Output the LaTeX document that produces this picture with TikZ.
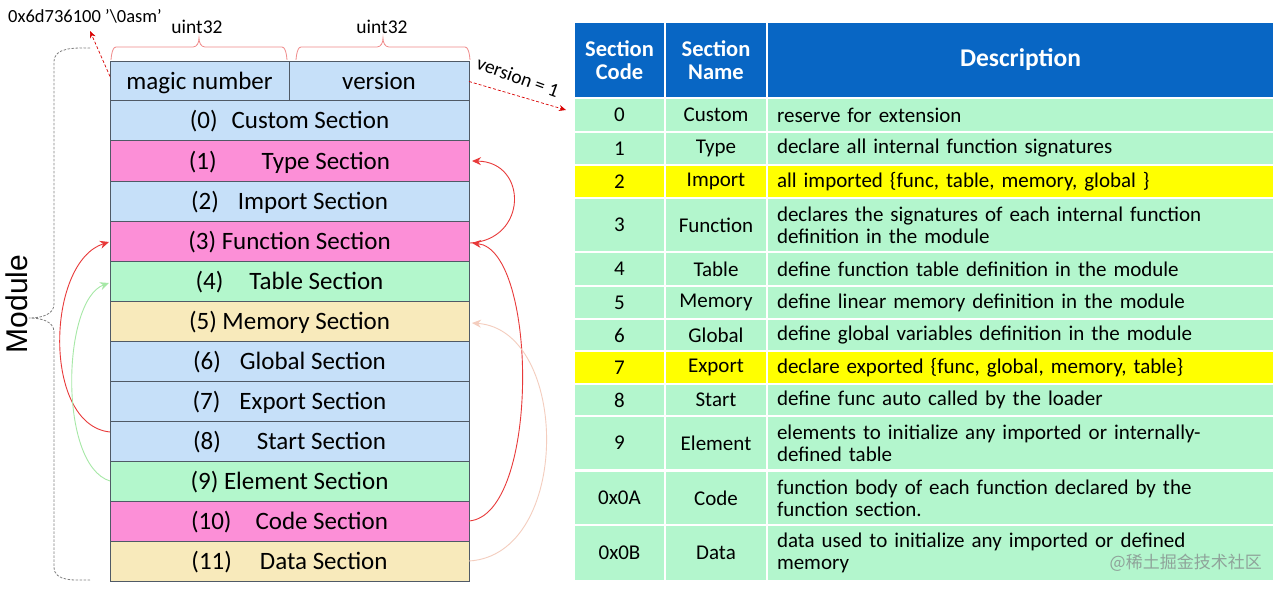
\documentclass[tikz,border=0pt]{standalone}
\usepackage{fontspec}
\setmainfont{Carlito}
\newfontfamily\modfont{Liberation Sans}
\newfontfamily\cjk{Noto Sans CJK SC}
\usetikzlibrary{arrows.meta,calc}
\definecolor{blueL}{HTML}{C6E0F9}
\definecolor{pinkL}{HTML}{FC8FD7}
\definecolor{greenL}{HTML}{B3F7CC}
\definecolor{tanL}{HTML}{F8EABB}
\definecolor{bordc}{HTML}{505A66}
\definecolor{hdrblue}{HTML}{0866C4}
\definecolor{cellgreen}{HTML}{B3F6CD}
\definecolor{cellyellow}{HTML}{FFFF00}
\definecolor{arrred}{HTML}{E83A3A}
\definecolor{arrgreen}{HTML}{A6E8A6}
\definecolor{arrpeach}{HTML}{F4CDBE}
\definecolor{bracered}{HTML}{F08A8A}
\definecolor{wmgray}{HTML}{8FA39A}
\tikzset{
  secbox/.style={draw=bordc, line width=1pt, minimum width=359pt, minimum height=40pt,
    inner sep=0pt, outer sep=0pt, font=\fontsize{25}{27}\selectfont, text height=18pt, text depth=2pt},
  cell/.style={inner sep=0pt, outer sep=0pt, font=\fontsize{21}{22}\selectfont},
  desccell/.style={cell, text width=487pt, inner xsep=9pt, align=left, minimum width=505pt},
  hdr/.style={inner sep=0pt, outer sep=0pt, fill=hdrblue, text=white, font=\bfseries\fontsize{22.5}{23}\selectfont, align=center},
  redarr/.style={draw=arrred, line width=0.9pt, -{Stealth[length=9pt,width=8pt]}},
  greenarr/.style={draw=arrgreen, line width=0.9pt, -{Stealth[length=9pt,width=8pt]}},
  peacharr/.style={draw=arrpeach, line width=0.9pt, -{Stealth[length=9pt,width=8pt]}},
  reddash/.style={draw=red!85!black, line width=0.7pt, dash pattern=on 3pt off 2pt, -{Stealth[length=7pt,width=6pt]}},
  bracepath/.style={draw=bracered, line width=0.8pt},
  modbrace/.style={draw=gray, line width=0.8pt, dash pattern=on 2.5pt off 1.5pt},
}
\newcommand\tabrow[7]{%
  \node[cell, fill=#4, minimum width=89pt, minimum height={(#3-#2)*1pt}] (c#1) at (619.5,{(#2+#3)/2}) {#5};
  \node[cell, fill=#4, minimum width=100pt, minimum height={(#3-#2)*1pt}] (n#1) at (716,{(#2+#3)/2}) {#6};
  \node[desccell, fill=#4, minimum height={(#3-#2)*1pt}] (d#1) at (1020.5,{(#2+#3)/2}) {#7};
}
\begin{document}
\begin{tikzpicture}[x=1pt,y=-1pt]
\useasboundingbox (0,0) rectangle (1280,591);
\fill[white] (0,0) rectangle (1280,591);

% ---- left column ----
\node[secbox, fill=blueL, minimum width=179pt, minimum height=39pt] (magic) at (199.5,81.5) {magic number};
\node[secbox, fill=blueL, minimum width=180pt, minimum height=39pt] (version) at (379,81.5) {version};
\node[secbox, fill=blueL]  (r0)  at (289.5,121) {(0)\hspace{14pt}Custom Section};
\node[secbox, fill=pinkL]  (r1)  at (289.5,161) {(1)\hspace{45pt}Type Section};
\node[secbox, fill=blueL]  (r2)  at (289.5,201) {(2)\hspace{19pt}Import Section};
\node[secbox, fill=pinkL]  (r3)  at (289.5,241) {(3) Function Section};
\node[secbox, fill=greenL] (r4)  at (289.5,281) {(4)\hspace{26pt}Table Section};
\node[secbox, fill=tanL]   (r5)  at (289.5,321) {(5) Memory Section};
\node[secbox, fill=blueL]  (r6)  at (289.5,361) {(6)\hspace{19pt}Global Section};
\node[secbox, fill=blueL]  (r7)  at (289.5,401) {(7)\hspace{19pt}Export Section};
\node[secbox, fill=blueL]  (r8)  at (289.5,441) {(8)\hspace{36pt}Start Section};
\node[secbox, fill=greenL] (r9)  at (289.5,481) {(9) Element Section};
\node[secbox, fill=pinkL]  (r10) at (289.5,521) {(10)\hspace{24pt}Code Section};
\node[secbox, fill=tanL]   (r11) at (289.5,561) {(11)\hspace{28pt}Data Section};

% ---- top labels and braces ----
\node[font=\fontsize{19.5}{20}\selectfont, inner sep=0pt] (u1) at (197,27) {uint32};
\node[font=\fontsize{19.5}{20}\selectfont, inner sep=0pt] (u2) at (382,27) {uint32};
\draw[bracepath] (111,59) to[out=-90,in=180] (116,47) -- (193,47) to[out=0,in=-90] (199,38) to[out=-90,in=180] (205,47) -- (282,47) to[out=0,in=-90] (287,59);
\draw[bracepath] (296,59) to[out=-90,in=180] (301,47) -- (377,47) to[out=0,in=-90] (383,38) to[out=-90,in=180] (389,47) -- (465,47) to[out=0,in=-90] (470,59);

\node[font=\fontsize{18.5}{20}\selectfont, inner sep=0pt, anchor=west] (hex) at (8,16) {0x6d736100 '\textbackslash0asm'};
\coordinate (hexarr) at (90,31);
\draw[reddash] ($(magic.west)+(0,-5)$) -- (hexarr);

\node[font=\fontsize{19.5}{20}\selectfont, inner sep=0pt, rotate=-20] (vlab) at (518,77) {version = 1};
\coordinate (verarr) at (566,110);
\draw[reddash] (version.east) -- (verarr);

% ---- Module brace ----
\draw[modbrace] (90,48) to[out=180,in=90] (54,62) -- (54,304) to[out=-90,in=0] (29,318) to[out=0,in=90] (54,332) -- (54,567) to[out=-90,in=180] (90,580);
\node[font=\modfont\fontsize{30}{32}\selectfont, inner sep=0pt, rotate=90] (mod) at (17,304) {Module};

% ---- connectors ----
\draw[redarr] ($(r8.west)+(0,-9)$) .. controls (42,425) and (46,262) .. ($(r3.west)+(-1,1)$);
\draw[greenarr] (r9.west) .. controls (58,465) and (62,300) .. ($(r4.west)+(-1,2)$);
\draw[redarr] ($(r3.east)+(1,2)$) .. controls (528,240) and (528,162) .. ($(r1.east)+(3,0)$);
\draw[redarr] (r10.east) .. controls (540,515) and (538,250) .. ($(r3.east)+(3,2)$);
\draw[peacharr] (r11.east) .. controls (572,555) and (570,330) .. ($(r5.east)+(3,2)$);

% ---- table ----
\node[hdr, minimum width=89pt, minimum height=74pt] (h1) at (619.5,60) {Section\\Code};
\node[hdr, minimum width=100pt, minimum height=74pt] (h2) at (716,60) {Section\\Name};
\node[hdr, minimum width=505pt, minimum height=74pt, font=\bfseries\fontsize{25.5}{26}\selectfont] (h3) at (1020.5,60) {Description};

\tabrow{0}{99}{131}{cellgreen}{0}{Custom}{reserve for extension}
\tabrow{1}{133}{164}{cellgreen}{1}{Type}{declare all internal function signatures}
\tabrow{2}{166}{197}{cellyellow}{2}{Import}{all imported \{func, table, memory, global \}}
\tabrow{3}{199}{251}{cellgreen}{3}{Function}{declares the signatures of each internal function\\definition in the module}
\tabrow{4}{253}{285}{cellgreen}{4}{Table}{define function table definition in the module}
\tabrow{5}{287}{318}{cellgreen}{5}{Memory}{define linear memory definition in the module}
\tabrow{6}{320}{350}{cellgreen}{6}{Global}{define global variables definition in the module}
\tabrow{7}{352}{383}{cellyellow}{7}{Export}{declare exported \{func, global, memory, table\}}
\tabrow{8}{385}{415}{cellgreen}{8}{Start}{define func auto called by the loader}
\tabrow{9}{417}{469}{cellgreen}{9}{Element}{elements to initialize any imported or internally-\\defined table}
\tabrow{10}{472}{524}{cellgreen}{0x0A}{Code}{function body of each function declared by the\\function section.}
\tabrow{11}{526}{580}{cellgreen}{0x0B}{Data}{data used to initialize any imported or defined\\memory}

\node[font=\cjk\fontsize{17}{18}\selectfont, text=wmgray, inner sep=0pt, anchor=east] (wm) at (1262,563) {@稀土掘金技术社区};
\end{tikzpicture}
\end{document}
